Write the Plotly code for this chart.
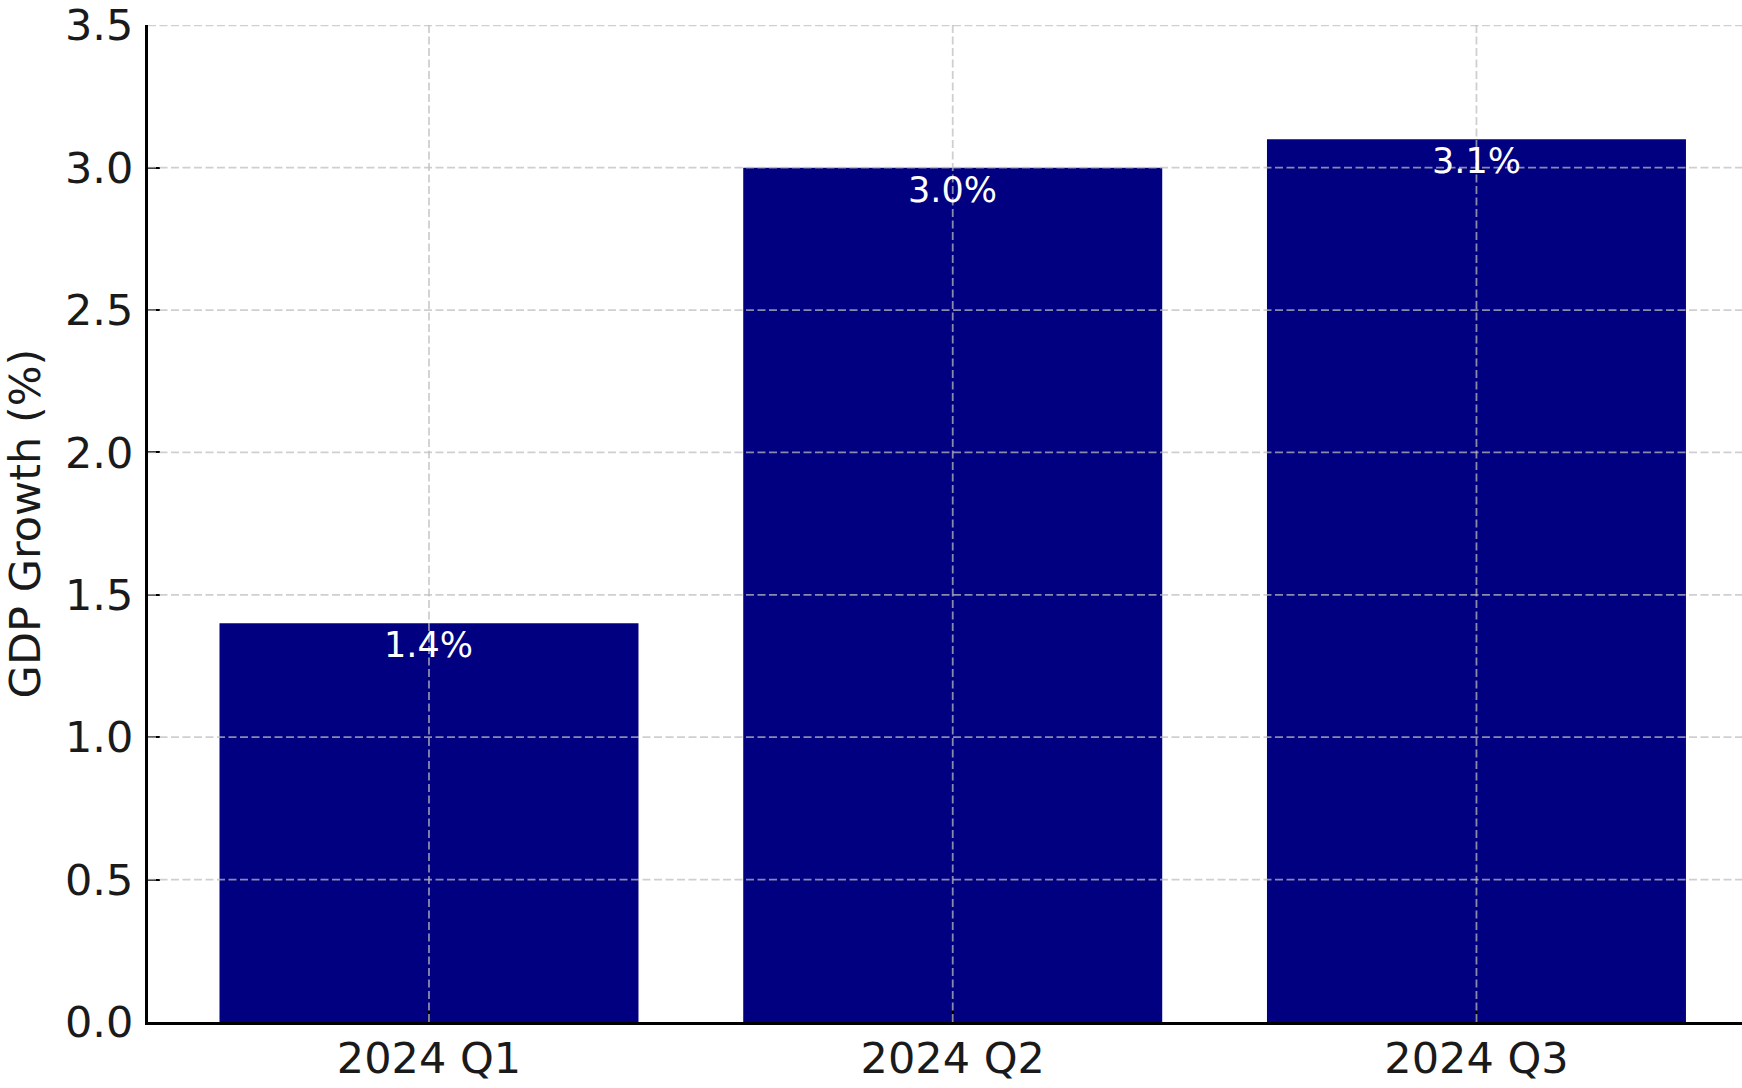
import plotly.graph_objects as go

quarters = ["2024 Q1", "2024 Q2", "2024 Q3"]
gdp_growth = [1.4, 3.0, 3.1]
bar_labels = ["1.4%", "3.0%", "3.1%"]
y_ticks = [0.0, 0.5, 1.0, 1.5, 2.0, 2.5, 3.0, 3.5]
y_tick_text = ["0.0", "0.5", "1.0", "1.5", "2.0", "2.5", "3.0", "3.5"]

FONT = "DejaVu Sans"
GRID = "rgba(189,189,189,0.73)"
DASH = "8px,3.5px"

fig = go.Figure()
fig.add_trace(go.Bar(
    x=quarters, y=gdp_growth, width=0.8,
    marker=dict(color="#000080", line=dict(width=0)),
    showlegend=False,
))

for q, v, t in zip(quarters, gdp_growth, bar_labels):
    fig.add_annotation(x=q, y=v, text=t, showarrow=False,
                       yanchor="middle", yshift=-22,
                       font=dict(family=FONT, size=35, color="white"))

# gridlines drawn above the bars (as in the reference)
for yv in y_ticks[1:]:
    fig.add_shape(type="line", xref="paper", yref="y", x0=0, x1=1, y0=yv, y1=yv,
                  line=dict(color=GRID, width=1.8, dash=DASH), layer="above")
for q in quarters:
    fig.add_shape(type="line", xref="x", yref="paper", x0=q, x1=q, y0=0, y1=1,
                  line=dict(color=GRID, width=1.8, dash=DASH), layer="above")

fig.update_layout(
    width=1742, height=1088,
    margin=dict(l=148, r=0, t=17, b=66, pad=0),
    plot_bgcolor="white", paper_bgcolor="white",
    font=dict(family=FONT, color="black"),
    xaxis=dict(
        range=[-0.5365, 2.507], showgrid=False,
        showline=True, linecolor="black", linewidth=3,
        ticks="inside", ticklen=12, tickwidth=2, tickcolor="black",
        tickfont=dict(family=FONT, size=43, color="#1a1a1a"),
        ticklabelstandoff=-4, ticklabeloverflow="allow",
        layer="above traces", zeroline=False,
    ),
    yaxis=dict(
        range=[0, 3.501], showgrid=False,
        tickvals=y_ticks, ticktext=y_tick_text,
        showline=True, linecolor="black", linewidth=3,
        ticks="inside", ticklen=12, tickwidth=2, tickcolor="black",
        tickfont=dict(family=FONT, size=43, color="#1a1a1a"),
        ticklabelstandoff=3, ticklabeloverflow="allow",
        title=dict(text="GDP Growth (%)", font=dict(family=FONT, size=43, color="#1a1a1a"),
                   standoff=32),
        layer="above traces", zeroline=False,
    ),
    bargap=0.2,
)

fig.write_html("out.html", config={"displayModeBar": False},
               post_script="document.body.style.margin='0px';")
